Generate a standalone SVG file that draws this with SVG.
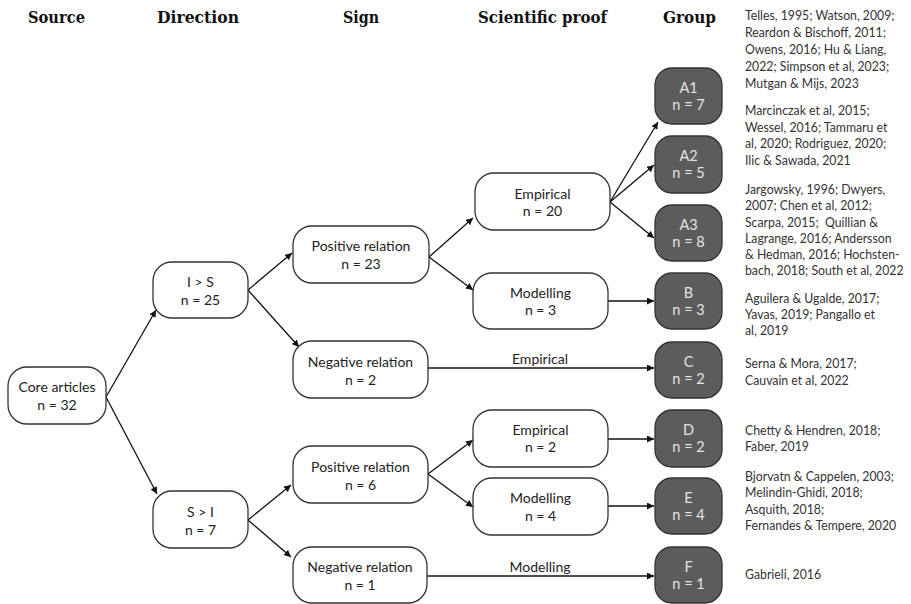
<svg xmlns="http://www.w3.org/2000/svg" width="911" height="604" viewBox="0 0 911 604">
<style>
.hdr{font-family:"DejaVu Serif","Liberation Serif",serif;font-weight:bold;font-size:17px;fill:#111}
.nd rect{fill:#fff;stroke:#333;stroke-width:1.3}
.gp rect{fill:#5c5c5c;stroke:#333;stroke-width:1.3}
.nt{font-family:Lato,"Liberation Sans",sans-serif;font-size:14px;fill:#222;text-anchor:middle}
.gt{font-family:Lato,"Liberation Sans",sans-serif;font-size:14.5px;fill:#e4e4e4;text-anchor:middle}
.ct{font-family:Lato,"Liberation Sans",sans-serif;font-size:13.5px;fill:#333}
.cn line{stroke:#111;stroke-width:1.3;marker-end:url(#ah)}
</style>
<defs>
<marker id="ah" viewBox="0 0 10 10" refX="10" refY="5" markerWidth="7" markerHeight="7" markerUnits="userSpaceOnUse" orient="auto">
<path d="M0,0 L10,5 L0,10 z" fill="#111"/>
</marker>
</defs>
<rect width="911" height="604" fill="#fff"/>
<g id="headers">
<text class="hdr" x="28" y="23" textLength="57" lengthAdjust="spacingAndGlyphs">Source</text>
<text class="hdr" x="157" y="23" textLength="82" lengthAdjust="spacingAndGlyphs">Direction</text>
<text class="hdr" x="343" y="23" textLength="36" lengthAdjust="spacingAndGlyphs">Sign</text>
<text class="hdr" x="478" y="23" textLength="129" lengthAdjust="spacingAndGlyphs">Scientific proof</text>
<text class="hdr" x="663" y="23" textLength="53" lengthAdjust="spacingAndGlyphs">Group</text>
</g>
<g id="connectors" class="cn">
<line x1="106" y1="397" x2="156" y2="310"/>
<line x1="106" y1="397" x2="157" y2="494"/>
<line x1="248" y1="290" x2="292" y2="253"/>
<line x1="248" y1="290" x2="299" y2="347"/>
<line x1="248" y1="520" x2="291" y2="485"/>
<line x1="248" y1="520" x2="291" y2="557"/>
<line x1="429" y1="257" x2="473" y2="218"/>
<line x1="429" y1="257" x2="473" y2="290"/>
<line x1="428" y1="368" x2="654" y2="368"/>
<line x1="610" y1="202" x2="658" y2="122"/>
<line x1="610" y1="202" x2="654" y2="165"/>
<line x1="610" y1="202" x2="654" y2="238"/>
<line x1="608" y1="301" x2="654" y2="301"/>
<line x1="428" y1="474" x2="473" y2="440"/>
<line x1="428" y1="474" x2="473" y2="507"/>
<line x1="608" y1="439" x2="654" y2="439"/>
<line x1="608" y1="506" x2="654" y2="506"/>
<line x1="427" y1="576" x2="654" y2="576"/>
<text class="nt" x="540" y="364">Empirical</text>
<text class="nt" x="540" y="572">Modelling</text>
</g>
<g id="core" class="nd"><rect x="8" y="367" width="98" height="57" rx="19"/><text class="nt" x="57" y="392">Core articles</text><text class="nt" x="57" y="410">n = 32</text></g>
<g id="ilarger" class="nd"><rect x="153" y="262" width="95" height="56" rx="19"/><text class="nt" x="200.5" y="287">I &gt; S</text><text class="nt" x="200.5" y="305">n = 25</text></g>
<g id="slarger" class="nd"><rect x="153" y="491" width="95" height="57" rx="19"/><text class="nt" x="200.5" y="517">S &gt; I</text><text class="nt" x="200.5" y="535">n = 7</text></g>
<g id="pos23" class="nd"><rect x="293" y="226" width="136" height="57" rx="19"/><text class="nt" x="361" y="251">Positive relation</text><text class="nt" x="361" y="269">n = 23</text></g>
<g id="neg2" class="nd"><rect x="293" y="341" width="135" height="57" rx="19"/><text class="nt" x="360.5" y="367">Negative relation</text><text class="nt" x="360.5" y="385">n = 2</text></g>
<g id="pos6" class="nd"><rect x="293" y="446" width="135" height="57" rx="19"/><text class="nt" x="360.5" y="472">Positive relation</text><text class="nt" x="360.5" y="490">n = 6</text></g>
<g id="neg1" class="nd"><rect x="293" y="547" width="134" height="56" rx="19"/><text class="nt" x="360" y="572">Negative relation</text><text class="nt" x="360" y="590">n = 1</text></g>
<g id="emp20" class="nd"><rect x="475" y="173" width="135" height="57" rx="19"/><text class="nt" x="542.5" y="199">Empirical</text><text class="nt" x="542.5" y="216">n = 20</text></g>
<g id="mod3" class="nd"><rect x="473" y="273" width="135" height="56" rx="19"/><text class="nt" x="540.5" y="298">Modelling</text><text class="nt" x="540.5" y="315">n = 3</text></g>
<g id="emp2" class="nd"><rect x="473" y="410" width="135" height="57" rx="19"/><text class="nt" x="540.5" y="435">Empirical</text><text class="nt" x="540.5" y="452">n = 2</text></g>
<g id="mod4" class="nd"><rect x="473" y="478" width="135" height="57" rx="19"/><text class="nt" x="540.5" y="503">Modelling</text><text class="nt" x="540.5" y="521">n = 4</text></g>
<g id="A1" class="gp"><rect x="655" y="68" width="67" height="56" rx="17"/><text class="gt" x="688.5" y="93">A1</text><text class="gt" x="688.5" y="110">n = 7</text></g>
<g id="A2" class="gp"><rect x="655" y="136" width="67" height="57" rx="17"/><text class="gt" x="688.5" y="161">A2</text><text class="gt" x="688.5" y="178">n = 5</text></g>
<g id="A3" class="gp"><rect x="655" y="205" width="67" height="56" rx="17"/><text class="gt" x="688.5" y="230">A3</text><text class="gt" x="688.5" y="247">n = 8</text></g>
<g id="B" class="gp"><rect x="655" y="273" width="67" height="56" rx="17"/><text class="gt" x="688.5" y="298">B</text><text class="gt" x="688.5" y="315">n = 3</text></g>
<g id="C" class="gp"><rect x="655" y="342" width="67" height="56" rx="17"/><text class="gt" x="688.5" y="367">C</text><text class="gt" x="688.5" y="384">n = 2</text></g>
<g id="D" class="gp"><rect x="655" y="410" width="67" height="57" rx="17"/><text class="gt" x="688.5" y="435">D</text><text class="gt" x="688.5" y="452">n = 2</text></g>
<g id="E" class="gp"><rect x="655" y="478" width="67" height="56" rx="17"/><text class="gt" x="688.5" y="503">E</text><text class="gt" x="688.5" y="520">n = 4</text></g>
<g id="F" class="gp"><rect x="655" y="547" width="67" height="56" rx="17"/><text class="gt" x="688.5" y="572">F</text><text class="gt" x="688.5" y="589">n = 1</text></g>
<g id="citations" class="ct" transform="translate(745 0) scale(0.91 1)">
<text x="0" y="20">Telles, 1995; Watson, 2009;</text>
<text x="0" y="37">Reardon &amp; Bischoff, 2011;</text>
<text x="0" y="54">Owens, 2016; Hu &amp; Liang,</text>
<text x="0" y="71">2022; Simpson et al, 2023;</text>
<text x="0" y="88">Mutgan &amp; Mijs, 2023</text>
<text x="0" y="115">Marcinczak et al, 2015;</text>
<text x="0" y="132">Wessel, 2016; Tammaru et</text>
<text x="0" y="148">al, 2020; Rodriguez, 2020;</text>
<text x="0" y="165">Ilic &amp; Sawada, 2021</text>
<text x="0" y="194">Jargowsky, 1996; Dwyers,</text>
<text x="0" y="210">2007; Chen et al, 2012;</text>
<text x="0" y="227" xml:space="preserve">Scarpa, 2015;  Quillian &amp;</text>
<text x="0" y="243">Lagrange, 2016; Andersson</text>
<text x="0" y="259">&amp; Hedman, 2016; Hochsten-</text>
<text x="0" y="275">bach, 2018; South et al, 2022</text>
<text x="0" y="303">Aguilera &amp; Ugalde, 2017;</text>
<text x="0" y="319">Yavas, 2019; Pangallo et</text>
<text x="0" y="335">al, 2019</text>
<text x="0" y="368">Serna &amp; Mora, 2017;</text>
<text x="0" y="385">Cauvain et al, 2022</text>
<text x="0" y="435">Chetty &amp; Hendren, 2018;</text>
<text x="0" y="451">Faber, 2019</text>
<text x="0" y="481">Bjorvatn &amp; Cappelen, 2003;</text>
<text x="0" y="497">Melindin-Ghidi, 2018;</text>
<text x="0" y="514">Asquith, 2018;</text>
<text x="0" y="530">Fernandes &amp; Tempere, 2020</text>
<text x="0" y="579">Gabrieli, 2016</text>
</g>
</svg>
